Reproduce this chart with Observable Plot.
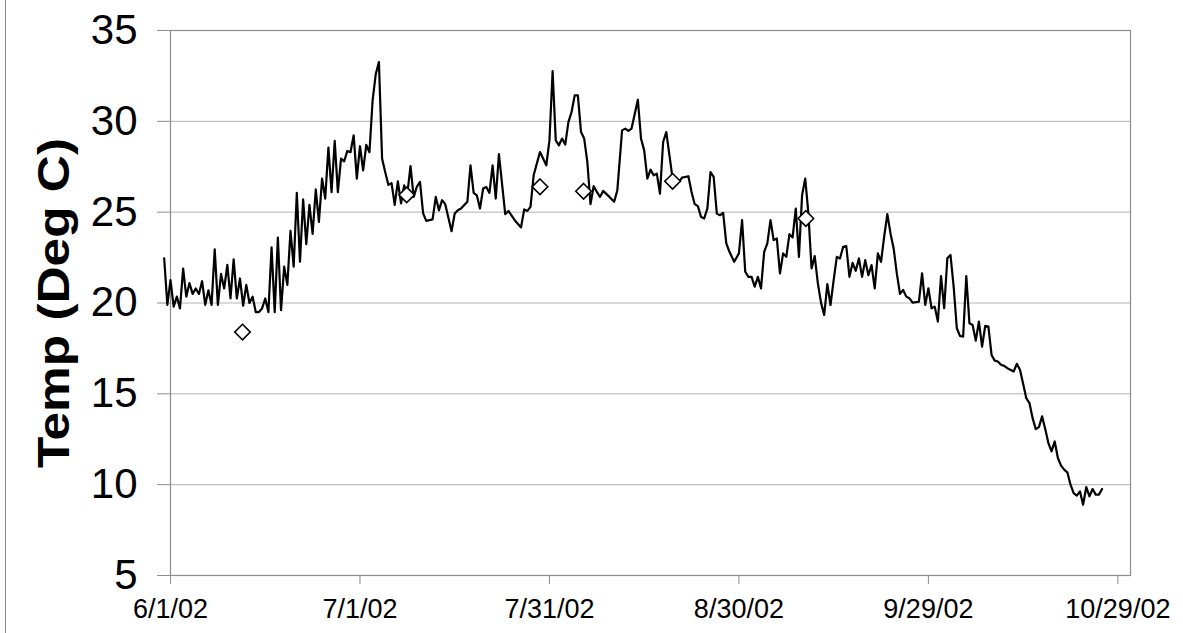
<!DOCTYPE html>
<html>
<head>
<meta charset="utf-8">
<script src="https://cdn.jsdelivr.net/npm/d3@7"></script>
<script src="https://cdn.jsdelivr.net/npm/@observablehq/plot@0.6"></script>
<style>
  html, body { margin: 0; padding: 0; background: white; }
  #wrap { position: relative; width: 1183px; height: 633px; overflow: hidden; }
  #edge { position: absolute; left: 5px; top: 0; width: 0; height: 633px; border-left: 1px solid #8a8a8a; }
</style>
</head>
<body>
<div id="wrap"><div id="edge"></div></div>
<script>
// ---- data ----
const seriesStart = "2002-06-01";
// [days since 6/1/02, temperature °C]
const loggerReadings = [
[-1,22.46],[-0.5,19.9],[0,21.26],[0.5,19.8],[1,20.35],[1.5,19.7],[2,21.9],[2.5,20.35],[3,21.1],[3.5,20.5],
[4,20.8],[4.5,20.5],[5,21.2],[5.5,19.9],[6,20.7],[6.5,19.9],[7,22.95],[7.5,19.9],[8,21.6],[8.5,20.8],
[9,22.1],[9.5,20.25],[10,22.4],[10.5,20.25],[11,21.35],[11.5,19.85],[12,21.0],[12.5,20.0],[13,20.35],[13.5,19.5],
[14,19.5],[14.5,19.7],[15,20.25],[15.5,19.5],[16,23.06],[16.5,19.5],[17,23.6],[17.5,19.6],[18,22.0],[18.5,21.0],
[19,23.97],[19.5,22.0],[20,26.06],[20.5,22.27],[21,25.7],[21.5,23.24],[22,25.4],[22.5,23.8],[23,26.25],[23.5,24.47],
[24,26.85],[24.5,25.75],[25,28.55],[25.5,26.1],[26,28.92],[26.5,26.1],[27,27.95],[27.5,27.8],[28,28.37],[28.5,28.3],
[29,29.23],[29.5,26.85],[30,28.63],[30.5,27.3],[31,28.7],[31.5,28.3],[32,31.15],[32.5,32.6],[33,33.26],[33.5,27.95],
[34,27.2],[34.5,26.5],[35,26.6],[35.5,25.4],[36,26.7],[36.5,25.48],[37,26.48],[37.5,26.0],[38,27.53],[38.5,25.84],
[39,26.4],[39.5,26.67],[40,24.93],[40.5,24.52],[41.5,24.6],[42,25.84],[42.5,25.1],[43,25.66],[43.5,25.44],[44.5,23.95],
[45,24.93],[45.5,25.11],[46,25.2],[47,25.57],[47.5,27.58],[48,26.06],[48.5,25.93],[49,25.2],[49.5,26.3],[50,26.39],
[50.5,26.06],[51,27.58],[51.5,25.75],[52,28.19],[53,24.89],[53.5,25.07],[54.5,24.56],[55.5,24.16],[56,25.15],[56.5,25.07],
[57,25.29],[57.5,27.03],[58.5,28.31],[59.5,27.58],[60,28.95],[60.5,32.76],[61,28.95],[61.5,28.68],[62,29.05],[62.5,28.72],
[63,29.96],[63.5,30.51],[64,31.43],[64.5,31.43],[65,29.41],[65.5,29.05],[66,27.76],[66.5,25.44],[67,26.43],[67.5,26.12],
[68,25.84],[68.5,26.17],[69.5,25.84],[70.25,25.57],[70.75,26.21],[71.5,29.5],[72,29.6],[72.5,29.47],[73,29.6],[74,31.19],
[74.5,29.05],[75,28.4],[75.5,26.85],[76,27.34],[76.5,27.03],[77,27.12],[77.5,26.02],[78,28.86],[78.5,29.41],[79,28.13],
[79.5,26.85],[80.5,26.66],[81,26.9],[82,26.98],[82.5,26.11],[83,25.44],[83.5,25.33],[84,24.74],[84.5,24.65],[85,25.2],
[85.5,27.21],[86,26.94],[86.5,24.92],[87,24.83],[87.5,24.96],[88,23.28],[88.5,22.82],[89.25,22.27],[90,22.73],[90.5,24.56],
[91,21.72],[91.5,21.44],[92,21.44],[92.5,20.9],[93,21.44],[93.5,20.8],[94,22.82],[94.5,23.28],[95,24.56],[95.5,23.46],
[96,23.55],[96.5,21.63],[97,22.73],[97.5,22.54],[98,23.79],[98.5,23.61],[99,25.2],[99.5,22.54],[100,25.93],[100.5,26.85],
[101,24.92],[101.5,21.9],[102,22.58],[102.5,21.08],[103,20.02],[103.5,19.34],[104,21.04],[104.5,19.89],[105,21.26],[105.5,22.54],
[106,22.45],[106.5,23.09],[107,23.13],[107.5,21.44],[108,22.21],[108.5,21.77],[109,22.45],[109.5,21.44],[110,22.36],[110.5,21.53],
[111,22.09],[111.5,20.8],[112,22.73],[112.5,22.27],[113,23.65],[113.5,24.89],[114,23.83],[114.5,23.0],[115,21.63],[115.5,20.5],
[116,20.72],[116.5,20.35],[117,20.26],[117.5,20.02],[118.5,20.07],[119,21.63],[119.5,19.89],[120,20.81],[120.5,19.71],[121,19.8],
[121.5,18.98],[122,21.48],[122.5,19.71],[123,22.46],[123.5,22.64],[124,20.9],[124.5,18.61],[125,18.19],[125.5,18.15],[126,21.48],
[126.5,18.88],[127,18.79],[127.5,17.93],[128,18.98],[128.5,17.6],[129,18.74],[129.5,18.7],[130,17.14],[130.5,16.83],[131,16.78],
[131.5,16.6],[132,16.54],[132.5,16.41],[133.5,16.23],[134,16.65],[134.5,16.32],[135,15.55],[135.5,14.76],[136,14.49],[136.5,13.66],
[137,13.06],[137.5,13.17],[138,13.76],[138.5,13.06],[139,12.29],[139.5,11.83],[140,12.38],[140.5,11.47],[141,11.05],[141.5,10.83],
[142,10.68],[142.5,10.0],[143,9.54],[143.5,9.4],[144,9.63],[144.5,8.9],[145,9.87],[145.5,9.36],[146,9.76],[146.5,9.45],
[147,9.45],[147.5,9.76]
];
// spot measurements (diamonds)
const sampleDays  = [11.4, 37.4, 58.5, 65.4, 79.5, 100.6];
const sampleTemps = [18.4, 25.95, 26.4, 26.15, 26.7, 24.65];
// axes
const xDomain    = ["2002-06-01", "2002-10-31"];
const tickDates  = ["2002-06-01", "2002-07-01", "2002-07-31", "2002-08-30", "2002-09-29", "2002-10-29"];
const tickLabels = ["6/1/02", "7/1/02", "7/31/02", "8/30/02", "9/29/02", "10/29/02"];
const yTicks     = [5, 10, 15, 20, 25, 30, 35];
const yGrid      = [10, 15, 20, 25, 30];
const yDomain    = [5, 35];
const yTitle     = "Temp (Deg C)";

// ---- build ----
const t0 = new Date(seriesStart + "T00:00:00Z").getTime();
const toDate = d => new Date(t0 + d * 864e5);
const line = loggerReadings.map(([d, t]) => ({date: toDate(d), temp: t}));
const samples = sampleDays.map((d, i) => ({date: toDate(d), temp: sampleTemps[i]}));
const ticks = tickDates.map(s => new Date(s + "T00:00:00Z"));
const labelFor = new Map(ticks.map((t, i) => [+t, tickLabels[i]]));

const chart = Plot.plot({
  width: 1183,
  height: 633,
  marginLeft: 170,
  marginRight: 53,
  marginTop: 30,
  marginBottom: 58,
  style: {fontFamily: "'Liberation Sans', Arial, sans-serif", background: "white", color: "black"},
  x: {type: "utc", domain: xDomain.map(s => new Date(s + "T00:00:00Z"))},
  y: {domain: yDomain},
  marks: [
    Plot.gridY(yGrid, {stroke: "#b4b4b4", strokeOpacity: 1, strokeWidth: 1}),
    Plot.frame({stroke: "#8c8c8c", strokeWidth: 1.2}),
    Plot.axisY(yTicks, {tickSize: 13, tickPadding: 20, fontSize: 42, stroke: "#8c8c8c", fill: "black", label: null}),
    Plot.axisX(ticks, {tickSize: 9, tickPadding: 14, fontSize: 27, stroke: "#8c8c8c", fill: "black", label: null,
      tickFormat: d => labelFor.get(+d)}),
    Plot.line(line, {x: "date", y: "temp", stroke: "black", strokeWidth: 2.2, strokeLinejoin: "round"}),
    Plot.dot(samples, {x: "date", y: "temp", symbol: "diamond2", r: 7, fill: "white", stroke: "black", strokeWidth: 1.6}),
    Plot.text([yTitle], {frameAnchor: "left", textAnchor: "middle", text: d => d, rotate: -90, dx: -116, fontSize: 44,
      fontWeight: "bold", fill: "black", className: "ytitle"})
  ]
});
document.getElementById("wrap").appendChild(chart);
// stretch the axis title along its length, as in the reference
d3.select(chart).selectAll("g.ytitle text")
  .attr("textLength", 330)
  .attr("lengthAdjust", "spacingAndGlyphs");
</script>
</body>
</html>
